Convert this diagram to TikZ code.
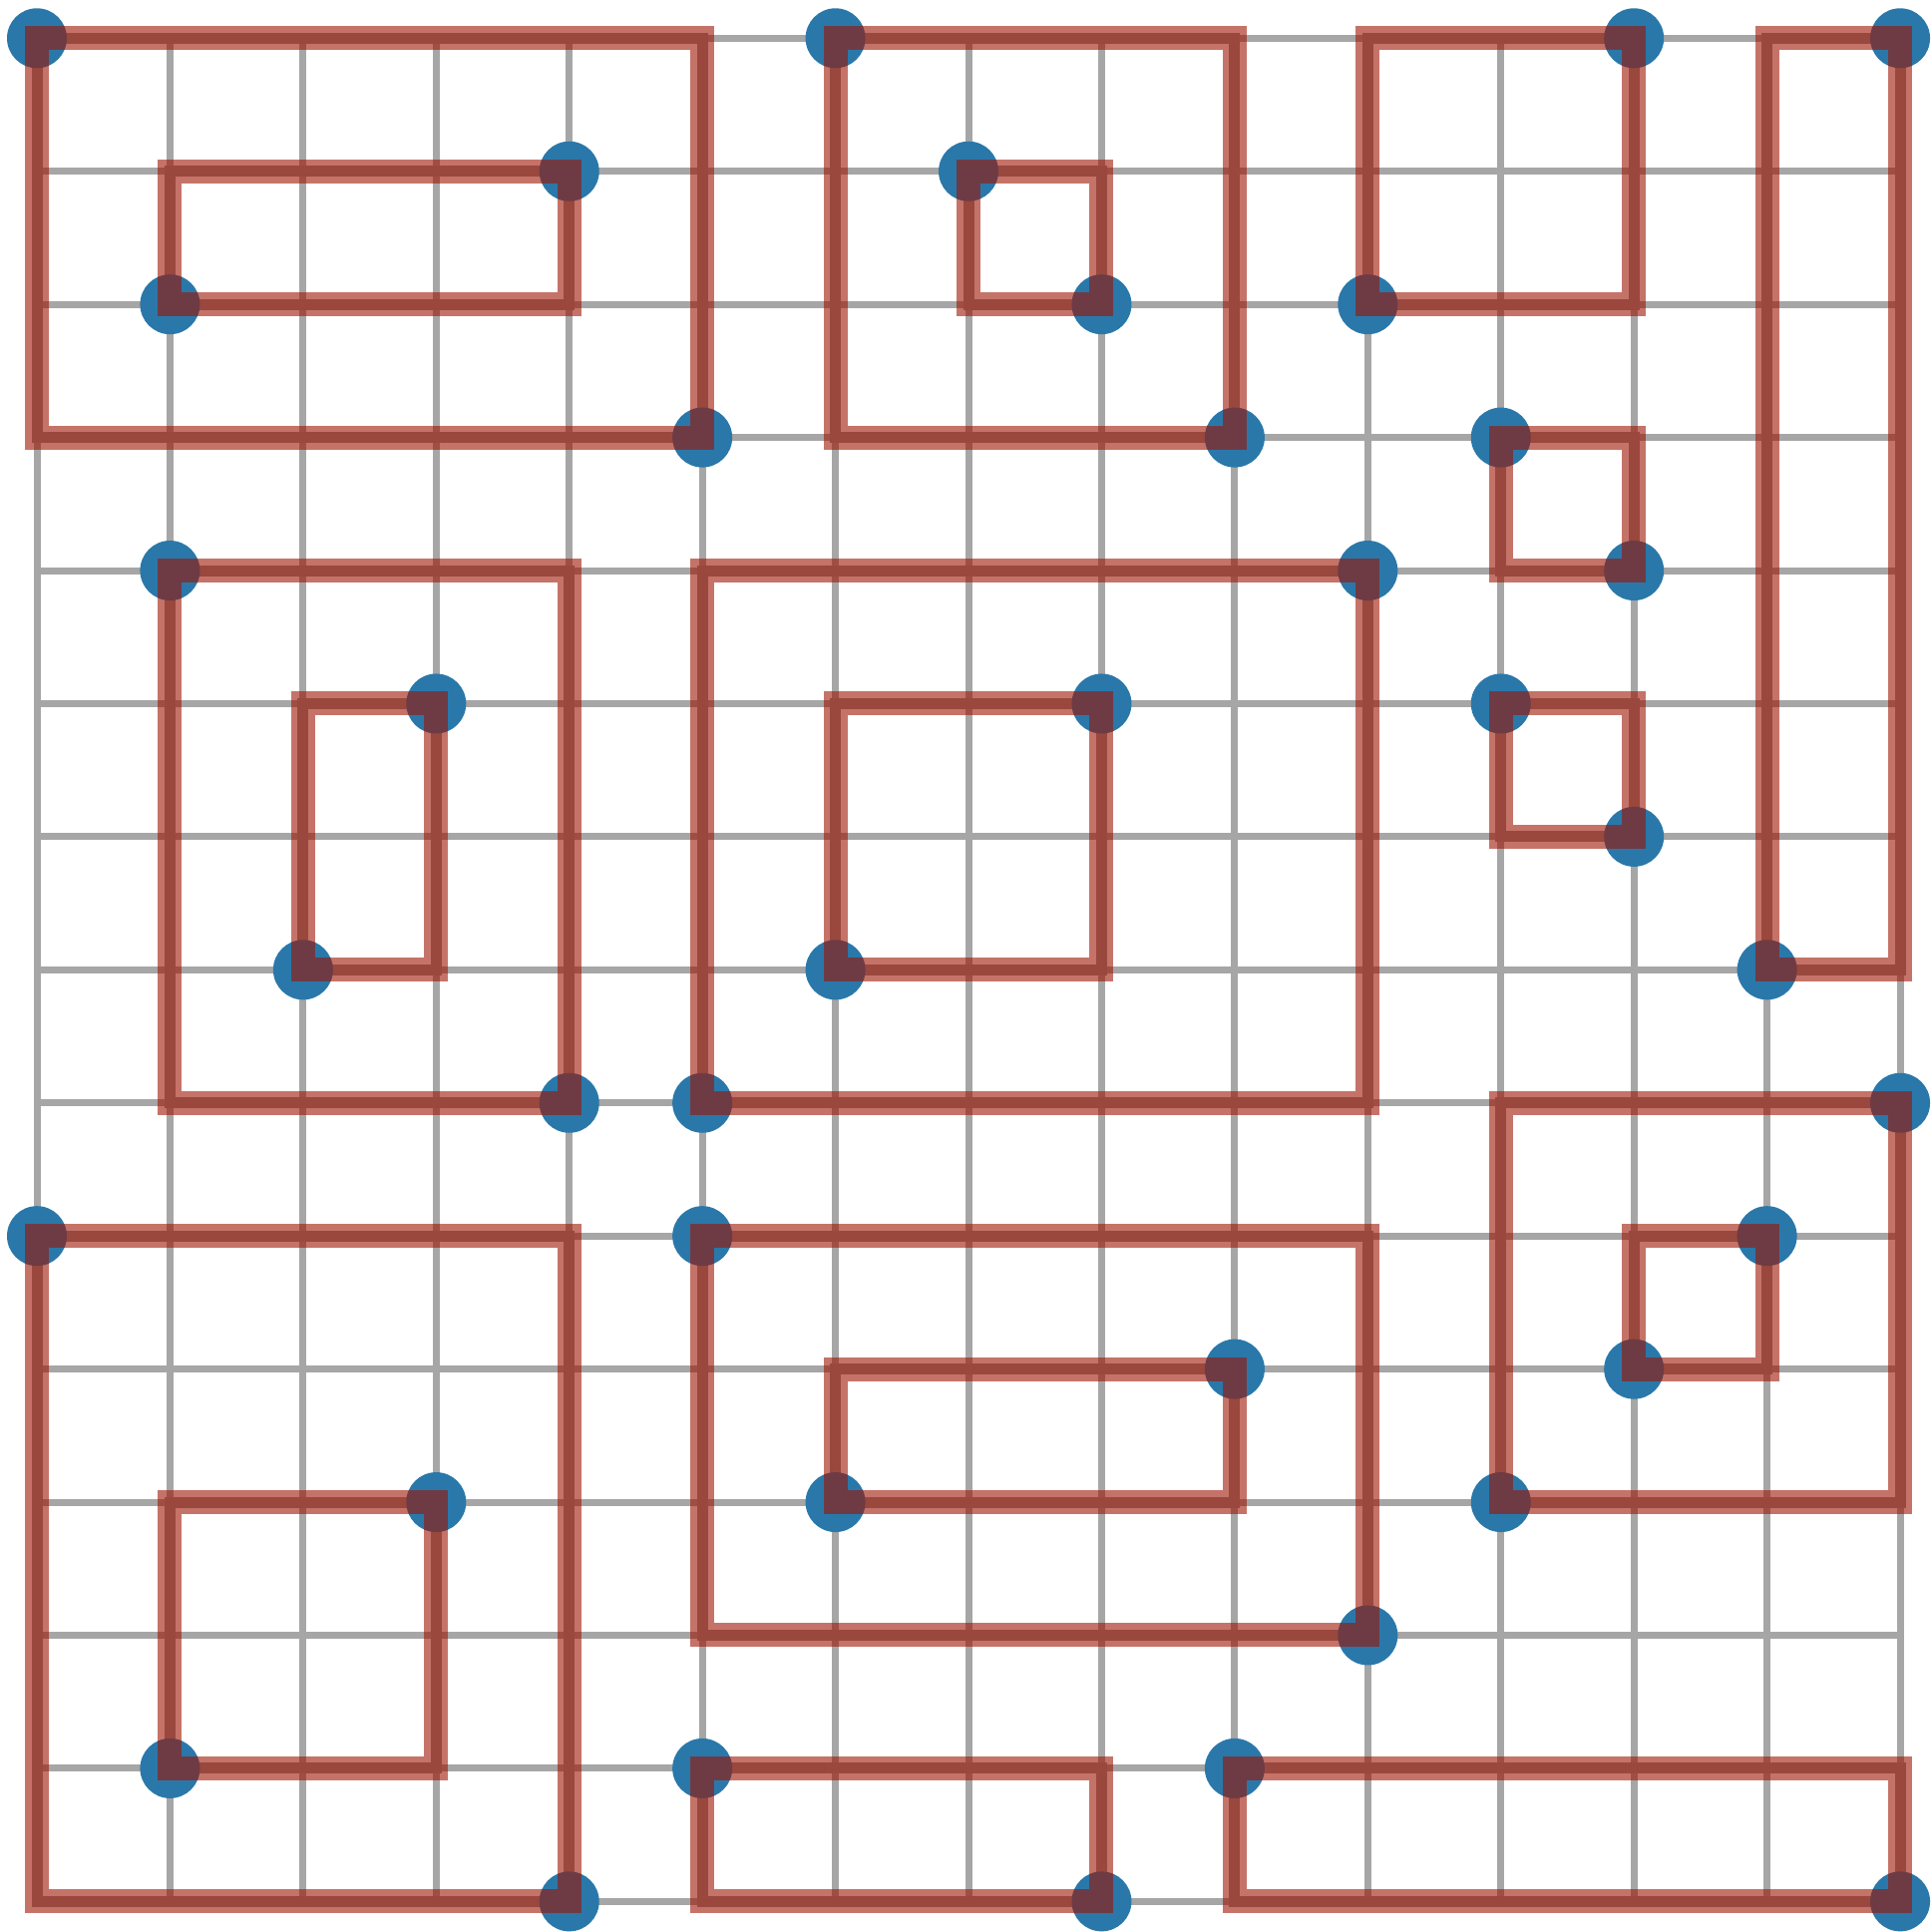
\documentclass[tikz,border=0pt]{standalone}
\definecolor{gridgray}{RGB}{166,166,166}
\definecolor{stripegray}{RGB}{150,150,150}
\definecolor{dotblue}{RGB}{42,120,170}
\definecolor{bandred}{RGB}{166,20,0}
\begin{document}
\begin{tikzpicture}[x=133.43pt,y=-133.43pt,
  gridline/.style={gridgray,line width=7pt},
  dot/.style={circle,fill=dotblue,minimum size=60pt,inner sep=0pt},
  bandshadow/.style={draw=black,draw opacity=0.07,line width=24pt,yshift=-4pt,xshift=1pt},
  band/.style={draw=bandred,draw opacity=0.56,line width=24pt},
  stripe/.style={draw=stripegray,line width=11pt}]
\useasboundingbox (-0.2773,-0.2870) rectangle (14.2247,14.2298);
\foreach \i in {0,...,14} {
  \draw[gridline] (\i,0) -- (\i,14);
  \draw[gridline] (0,\i) -- (14,\i);
}
\def\rects{r1/0/0/5/3, r2/4/1/1/2, r3/6/0/9/3, r4/7/1/8/2, r5/12/0/10/2,
  r6/14/0/13/7, r7/11/3/12/4, r8/1/4/4/8, r9/3/5/2/7, r10/10/4/5/8,
  r11/8/5/6/7, r12/11/5/12/6, r13/14/8/11/11, r14/13/9/12/10,
  r15/0/9/4/14, r16/3/11/1/13, r17/5/9/10/12, r18/9/10/6/11,
  r19/5/13/8/14, r20/9/13/14/14}
\foreach \n/\ax/\ay/\bx/\by in \rects {
  \coordinate (\n p) at (\ax,\ay);
  \coordinate (\n q) at (\bx,\by);
  \draw[stripe] (\n p) rectangle (\n q);
}
\foreach \n/\ax/\ay/\bx/\by in \rects {
  \node[dot] (\n a) at (\n p) {};
  \node[dot] (\n b) at (\n q) {};
}
\foreach \n/\ax/\ay/\bx/\by in \rects {
  \draw[bandshadow] (\n a.center) rectangle (\n b.center);
}
\foreach \n/\ax/\ay/\bx/\by in \rects {
  \draw[band] (\n a.center) rectangle (\n b.center);
}
\end{tikzpicture}
\end{document}
